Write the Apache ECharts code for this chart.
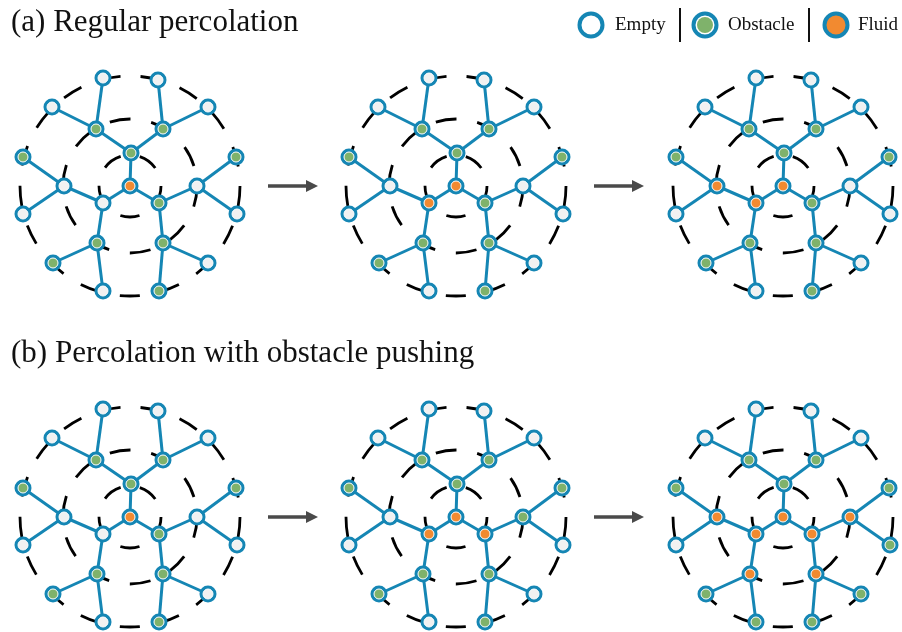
<!DOCTYPE html>
<html>
<head>
<meta charset="utf-8">
<script src="https://cdn.jsdelivr.net/npm/echarts@6/dist/echarts.min.js"></script>
<style>
  html, body { margin: 0; padding: 0; background: #fff; }
  #fig { width: 902px; height: 632px; }
</style>
</head>
<body>
<div id="fig"></div>
<script>
// centre of each of the six tree snapshots (a1 a2 a3 / b1 b2 b3)
var panelCenters = [[130, 186], [456, 186], [783, 186], [130, 517], [456, 517], [783, 517]];

// node positions relative to the centre node
var nodeOffsets = [
  [0, 0],                                   // 0 centre
  [1, -33], [-27, 17], [29, 17],            // 1-3 first shell
  [-34, -57], [33, -57], [-66, 0],          // 4-6 second shell
  [-33, 57], [67, 0], [33, 57],             // 7-9
  [-27, -108], [-78, -79], [28, -106], [78, -79],   // 10-13 leaves
  [-107, -29], [-107, 28], [106, -29], [107, 28],   // 14-17
  [-77, 77], [-27, 105], [78, 77], [29, 105]        // 18-21
];

var edges = [
  [0, 1], [0, 2], [0, 3],
  [1, 4], [1, 5], [2, 6], [2, 7], [3, 8], [3, 9],
  [4, 10], [4, 11], [5, 12], [5, 13], [6, 14], [6, 15],
  [8, 16], [8, 17], [7, 18], [7, 19], [9, 20], [9, 21]
];

// E = empty, O = obstacle, F = fluid, one letter per node
var panelStates = [
  'FOEOOOEOEOEEEEOEOEOEEO',
  'FOFOOOEOEOEEEEOEOEOEEO',
  'FOFOOOFOEOEEEEOEOEOEEO',
  'FOEOOOEOEOEEEEOEOEOEEO',
  'FOFFOOEOOOEEEEOEOEOEEO',
  'FOFFOOFFFFEEEEOEOOOOOO'
];

// dashed shells: radius and how many dashes go round each one
var ringRadii = [31, 67, 110];
var ringDashes = [5, 10, 17];

var arrows = [[[268, 186], [312, 186]], [[594, 186], [638, 186]],
              [[268, 517], [312, 517]], [[594, 517], [638, 517]]];

var BLUE = '#1586b4';
var stateColor = { E: '#f1f1f1', O: '#7fb26b', F: '#f28a30' };
var SERIF = '"Liberation Serif", "Times New Roman", serif';

var chart = echarts.init(document.getElementById('fig'));

var ringData = [], edgeData = [], nodeData = [], fillData = [];
panelCenters.forEach(function (c, p) {
  ringRadii.forEach(function (r, k) { ringData.push([c[0], c[1], r, ringDashes[k]]); });
  var pos = nodeOffsets.map(function (o) { return [c[0] + o[0], c[1] + o[1]]; });
  edges.forEach(function (e) { edgeData.push({ coords: [pos[e[0]], pos[e[1]]] }); });
  pos.forEach(function (pt, i) {
    nodeData.push(pt);
    fillData.push({ value: pt, itemStyle: { color: stateColor[panelStates[p][i]] } });
  });
});

var option = {
  animation: false,
  grid: { left: 0, right: 0, top: 0, bottom: 0 },
  xAxis: { type: 'value', min: 0, max: 902, show: false },
  yAxis: { type: 'value', min: 0, max: 632, inverse: true, show: false },
  series: [
    {
      type: 'custom',
      z: 1,
      silent: true,
      data: ringData,
      renderItem: function (params, api) {
        var c = api.coord([api.value(0), api.value(1)]);
        var r = api.size([api.value(2), 0])[0];
        var seg = 2 * Math.PI * r / (2 * api.value(3));
        return {
          type: 'circle',
          shape: { cx: c[0], cy: c[1], r: r },
          style: { fill: 'none', stroke: '#000', lineWidth: 2.8, lineDash: [seg, seg] }
        };
      }
    },
    {
      type: 'lines',
      coordinateSystem: 'cartesian2d',
      z: 2,
      silent: true,
      data: edgeData,
      lineStyle: { color: BLUE, width: 3, opacity: 1 }
    },
    {
      type: 'lines',
      coordinateSystem: 'cartesian2d',
      z: 2,
      silent: true,
      symbol: ['none', 'path://M5,0 L10,10 L0,10 Z'],
      symbolSize: [13, 12],
      data: arrows.map(function (a) { return { coords: a }; }),
      lineStyle: { color: '#4a4a4a', width: 3.5, opacity: 1 }
    },
    {
      type: 'scatter',
      z: 3,
      silent: true,
      symbolSize: 17,
      data: nodeData,
      itemStyle: { color: BLUE, opacity: 1 }
    },
    {
      type: 'scatter',
      z: 4,
      silent: true,
      symbolSize: 10,
      data: fillData,
      itemStyle: { borderColor: '#ffffff', borderWidth: 1, opacity: 1 }
    }
  ],
  graphic: [
    { type: 'text', x: 11, y: 23, style: { text: '(a) Regular percolation', font: '31px ' + SERIF, fill: '#111', verticalAlign: 'middle' } },
    { type: 'text', x: 11, y: 354, style: { text: '(b) Percolation with obstacle pushing', font: '31px ' + SERIF, fill: '#111', verticalAlign: 'middle' } },
    // legend
    { type: 'circle', shape: { cx: 591, cy: 25, r: 11.5 }, style: { fill: '#fff', stroke: BLUE, lineWidth: 4 } },
    { type: 'text', x: 615, y: 25, style: { text: 'Empty', font: '19px ' + SERIF, fill: '#111', verticalAlign: 'middle' } },
    { type: 'line', shape: { x1: 680, y1: 8, x2: 680, y2: 42 }, style: { stroke: '#111', lineWidth: 2 } },
    { type: 'circle', shape: { cx: 705, cy: 25, r: 11.5 }, style: { fill: '#fff', stroke: BLUE, lineWidth: 4 } },
    { type: 'circle', shape: { cx: 705, cy: 25, r: 8 }, style: { fill: stateColor.O } },
    { type: 'text', x: 728, y: 25, style: { text: 'Obstacle', font: '19px ' + SERIF, fill: '#111', verticalAlign: 'middle' } },
    { type: 'line', shape: { x1: 809, y1: 8, x2: 809, y2: 42 }, style: { stroke: '#111', lineWidth: 2 } },
    { type: 'circle', shape: { cx: 836, cy: 25, r: 11.5 }, style: { fill: stateColor.F, stroke: BLUE, lineWidth: 4 } },
    { type: 'text', x: 858, y: 25, style: { text: 'Fluid', font: '19px ' + SERIF, fill: '#111', verticalAlign: 'middle' } }
  ]
};

chart.setOption(option);
window.addEventListener('resize', function () { chart.resize(); });
</script>
</body>
</html>
